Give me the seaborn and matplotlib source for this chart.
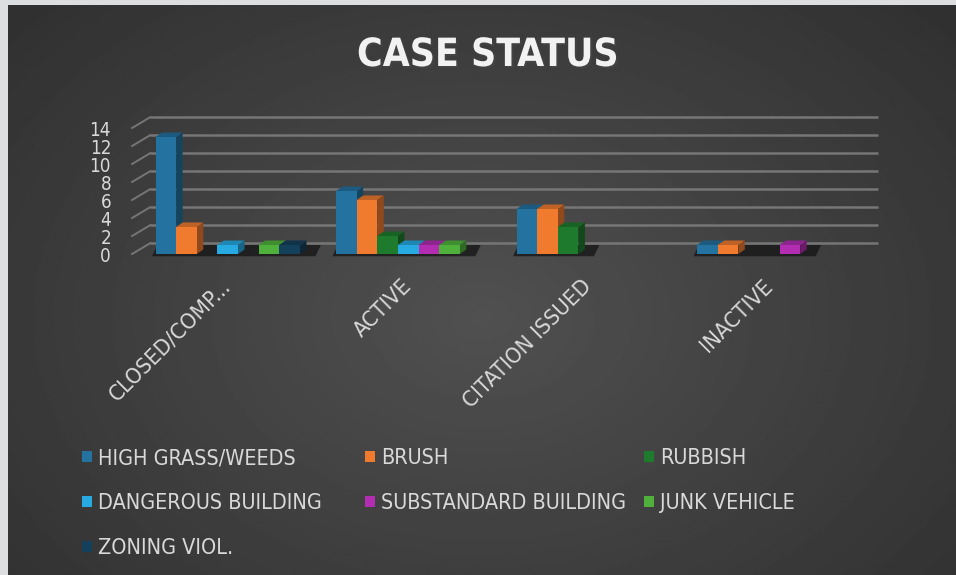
import numpy as np
import pandas as pd
import seaborn as sns
import matplotlib.pyplot as plt
import matplotlib.patheffects as pe
from matplotlib.patches import Polygon, Patch
from matplotlib.colors import to_rgb
from matplotlib.font_manager import FontProperties

# data
categories = ['CLOSED/COMP...', 'ACTIVE', 'CITATION ISSUED', 'INACTIVE']
series = ['HIGH GRASS/WEEDS', 'BRUSH', 'RUBBISH', 'DANGEROUS BUILDING',
          'SUBSTANDARD BUILDING', 'JUNK VEHICLE', 'ZONING VIOL.']
high_grass = [13, 7, 5, 1]
brush = [3, 6, 5, 1]
rubbish = [0, 2, 3, 0]
dangerous = [1, 1, 0, 0]
substandard = [0, 1, 0, 1]
junk = [1, 1, 0, 0]
zoning = [1, 0, 0, 0]
colors = ['#23729f', '#f07a2e', '#1e7a2c', '#27a9e1', '#b22db1', '#4fb13c', '#15405c']
yticks = list(range(0, 16, 2))

rows = []
for name, vals in zip(series, [high_grass, brush, rubbish, dangerous, substandard, junk, zoning]):
    for cat, v in zip(categories, vals):
        rows.append({'status': cat, 'type': name, 'cases': v})
df = pd.DataFrame(rows)

FONT = ['DejaVu Sans']
TXT = '#d9d9d9'

fig = plt.figure(figsize=(9.56, 5.75), dpi=100)
fig.patch.set_facecolor('#dcdedf')

# dark radial gradient panel
bg = fig.add_axes([8 / 956, 0, 948 / 956, 570 / 575])
yy, xx = np.mgrid[0:1:300j, 0:1:500j]
r = np.sqrt(((xx - 0.5) / 0.75) ** 2 + ((yy - 0.55) / 0.9) ** 2)
shade = np.clip(0.315 - 0.14 * r, 0.17, 0.315)
bg.imshow(shade, cmap='gray', vmin=0, vmax=1, aspect='auto', extent=[0, 1, 0, 1])
bg.set_axis_off()

ax = fig.add_axes([137.5 / 956, (575 - 254) / 575, 722 / 956, 126 / 575])
ax.set_facecolor('none')

sns.barplot(data=df, x='status', y='cases', hue='type', order=categories,
            hue_order=series, palette=colors, width=0.8, saturation=1,
            edgecolor='none', legend=False, ax=ax)

ax.set_xlim(-0.5, 3.5)
ax.set_ylim(0, 14)

# back wall + left wall grid
wdx, wdy = 0.1, 1.2
for v in yticks:
    ax.plot([-0.43, 3.6], [v + wdy, v + wdy], color='#767676', lw=1.8,
            clip_on=False, zorder=1, solid_capstyle='butt')
    ax.plot([-0.53, -0.43], [v, v + wdy], color='#767676', lw=1.4,
            clip_on=False, zorder=1)

# 3d faces on each bar
bdx, bdy = 0.036, 0.5
bars = []
for hi, cont in enumerate(ax.containers):
    for bar in cont:
        bars.append((bar.get_x(), bar, colors[hi]))
bars.sort(key=lambda t: t[0])

groups = {}
for k, (x0, bar, col) in enumerate(bars):
    h = bar.get_height()
    w = bar.get_width()
    if h <= 0:
        bar.set_visible(False)
        continue
    x1 = x0 + w
    c = np.array(to_rgb(col))
    z = 3 + 0.1 * k
    bar.set_zorder(z + 0.05)
    top = Polygon([(x0, h), (x1, h), (x1 + bdx, h + bdy), (x0 + bdx, h + bdy)],
                  closed=True, facecolor=c * 0.8, edgecolor='none', zorder=z, clip_on=False)
    side = Polygon([(x1, 0), (x1, h), (x1 + bdx, h + bdy), (x1 + bdx, bdy)],
                   closed=True, facecolor=c * 0.6, edgecolor='none', zorder=z, clip_on=False)
    ax.add_patch(top)
    ax.add_patch(side)
    g = int(round(x0 + w / 2))
    lo, hi2 = groups.get(g, (x0, x1))
    groups[g] = (min(lo, x0), max(hi2, x1))

# floor shadow under each group
for g, (lo, hi2) in groups.items():
    shadow = Polygon([(lo - 0.02, -0.25), (hi2 + bdx + 0.05, -0.25),
                      (hi2 + bdx + 0.08, bdy + 0.5), (lo + 0.01, bdy + 0.5)],
                     closed=True, facecolor='#141414', edgecolor='none', alpha=0.75,
                     zorder=2, clip_on=False)
    ax.add_patch(shadow)

for s in ax.spines.values():
    s.set_visible(False)
ax.set_yticks(yticks)
ax.set_yticklabels([str(v) for v in yticks], fontsize=13.5, color=TXT, family=FONT,
                   fontstretch='condensed')
ax.set_xticks(range(len(categories)))
ax.set_xticklabels(categories, fontsize=16, color=TXT, family=FONT, fontstretch='condensed',
                   rotation=45, ha='right', va='center', rotation_mode='anchor')
ax.tick_params(axis='y', length=0, pad=19)
ax.tick_params(axis='x', length=0, pad=21)
ax.set_xlabel('')
ax.set_ylabel('')
ax.grid(False)

fig.text(488 / 956, 1 - 55 / 575, 'CASE STATUS', ha='center', va='center',
         fontsize=28, fontweight='bold', color='#f2f2f2', family=FONT,
         fontstretch='condensed',
         path_effects=[pe.withSimplePatchShadow(offset=(1.5, -1.5), alpha=0.5)])

# legend: three columns, Excel-style equal widths
col_items = [[0, 3, 6], [1, 4], [2, 5]]
col_x = [82, 365, 644]
leg_font = FontProperties(family=FONT, stretch='condensed', size=15.5)
for items, xpx in zip(col_items, col_x):
    handles = [Patch(facecolor=colors[i], edgecolor='none', label=series[i]) for i in items]
    fig.legend(handles=handles, loc='upper left',
               bbox_to_anchor=(xpx / 956, 1 - 448 / 575), frameon=False,
               prop=leg_font, labelcolor=TXT,
               handlelength=0.45, handleheight=0.45, handletextpad=0.3,
               labelspacing=1.17, borderaxespad=0, borderpad=0)

fig.savefig('out.png', dpi=100)
